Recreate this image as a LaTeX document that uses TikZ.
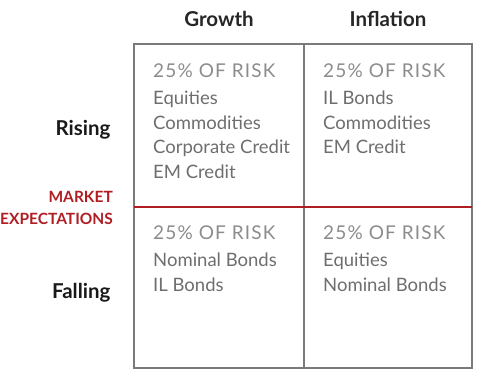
\documentclass[tikz,border=0pt]{standalone}
\usepackage{fontspec}
\setmainfont{Lato}
\usetikzlibrary{positioning}

\definecolor{framegray}{HTML}{7A7A7A}
\definecolor{headgray}{HTML}{8C8C8C}
\definecolor{itemgray}{HTML}{6E6E6E}
\definecolor{mktred}{HTML}{B01E23}

\tikzset{
  colhead/.style={font=\fontsize{20.5}{24}\selectfont\bfseries, text=black!85, anchor=base},
  rowhead/.style={font=\fontsize{20.5}{24}\selectfont\bfseries, text=black!90, anchor=base east},
  riskhead/.style={font=\fontsize{19}{22}\selectfont\addfontfeature{LetterSpace=6}, text=headgray, anchor=base west, inner sep=0pt},
  items/.style={font=\fontsize{18.5}{24.5}\selectfont, text=itemgray, align=left, anchor=north west, inner sep=0pt},
  frame/.style={framegray, line width=1.2pt}
}

\begin{document}
\begin{tikzpicture}[x=1pt,y=-1pt]
\useasboundingbox (0,0) rectangle (504,383);

% Grid
\draw[frame] (134,44) rectangle (472,368);
\draw[frame] (304,44) -- (304,368);
\draw[mktred, line width=1.4pt] (134,207) -- (472,207);

% Column and row headings
\node[colhead] (growth) at (219,26) {Growth};
\node[colhead] (inflation) at (388,26) {Inflation};
\node[rowhead] (rising) at (114,135) {Rising};
\node[rowhead] (falling) at (114,298) {Falling};
\node[font=\fontsize{15.5}{22}\selectfont\bfseries, text=mktred, align=right, anchor=north east, inner sep=0pt]
  (mkt) at (113,191) {MARKET\\EXPECTATIONS};

% Rising / growth
\node[riskhead] (rgh) at (153,77) {25\% OF RISK};
\node[items] (rgi) at (153,91) {Equities\\Commodities\\Corporate Credit\\EM Credit};
% Rising / inflation
\node[riskhead] (rih) at (323,77) {25\% OF RISK};
\node[items] (rii) at (323,91) {IL Bonds\\Commodities\\EM Credit};
% Falling / growth
\node[riskhead] (fgh) at (153,239) {25\% OF RISK};
\node[items] (fgi) at (153,253) {Nominal Bonds\\IL Bonds};
% Falling / inflation
\node[riskhead] (fih) at (323,239) {25\% OF RISK};
\node[items] (fii) at (323,253) {Equities\\Nominal Bonds};
\end{tikzpicture}
\end{document}
